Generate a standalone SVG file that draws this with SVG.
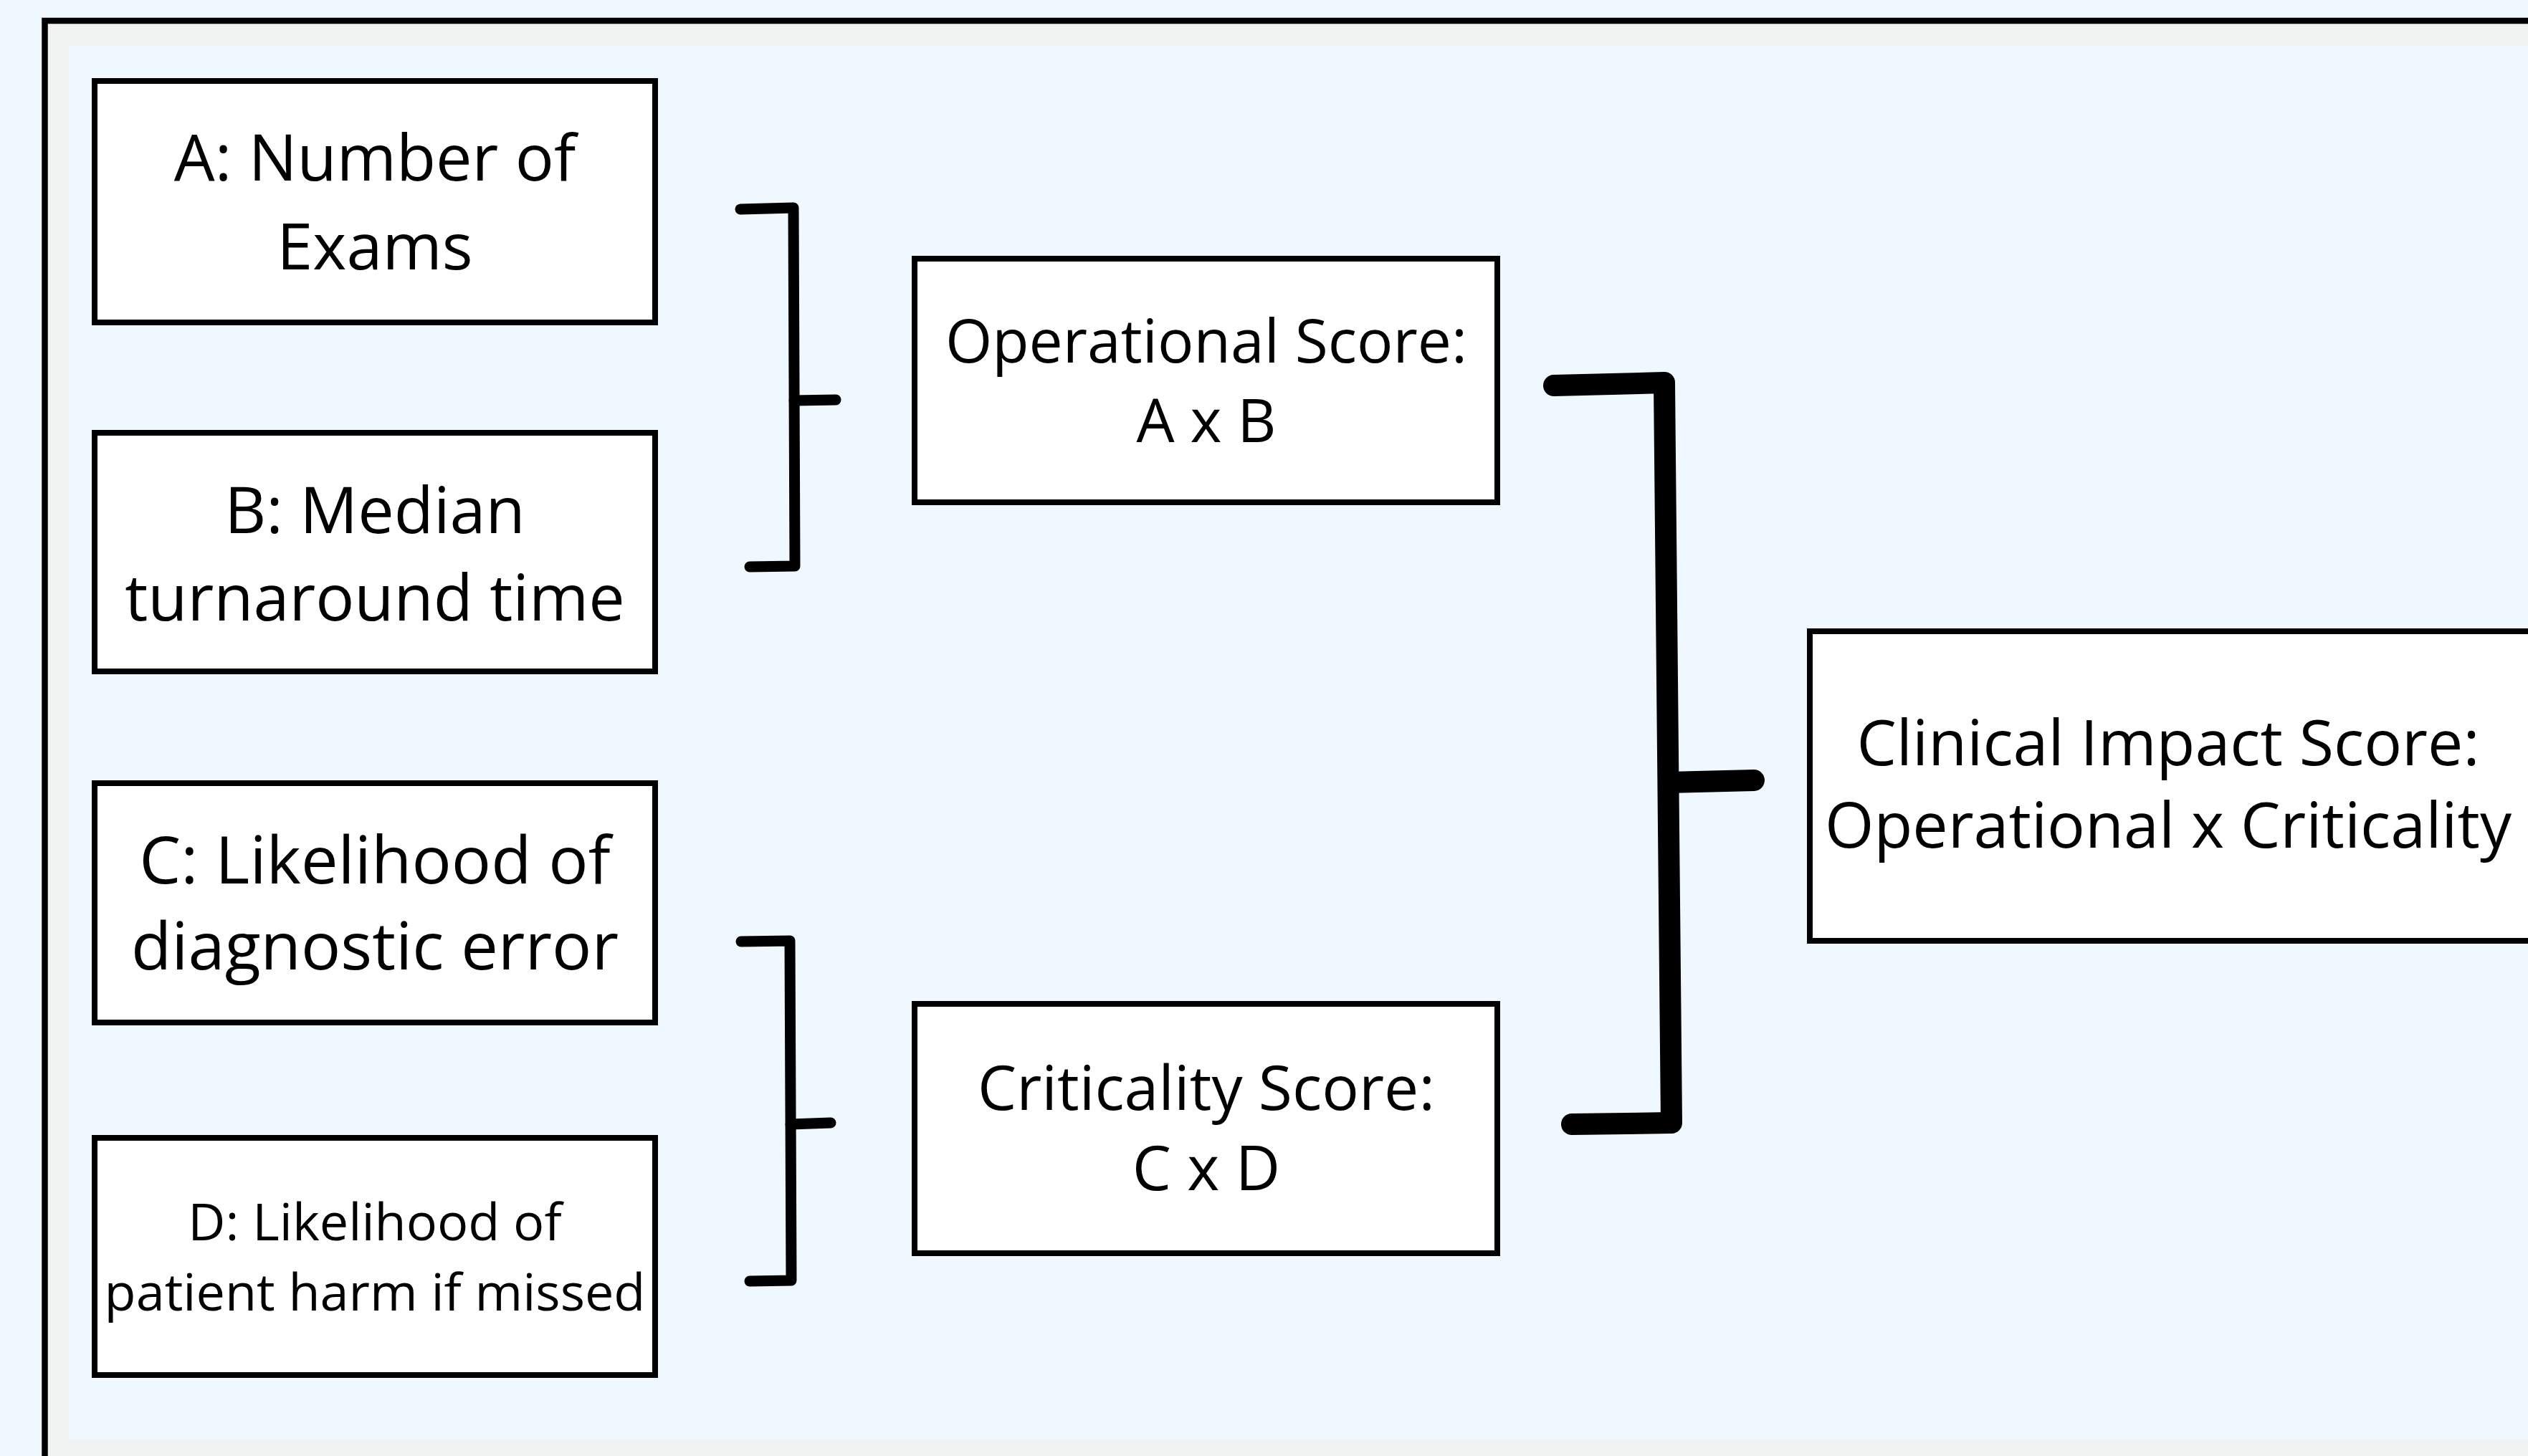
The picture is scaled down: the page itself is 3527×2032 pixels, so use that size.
<svg xmlns="http://www.w3.org/2000/svg" width="3527" height="2032" viewBox="0 0 3527 2032">
  <style>
    .box { fill: #FFFFFF; stroke: #000000; stroke-width: 8; }
    .lbl { font-family: "Open Sans", "Noto Sans", "Liberation Sans", sans-serif; fill: #000000; text-anchor: middle; }
    .br { fill: none; stroke: #000000; stroke-linecap: round; stroke-linejoin: round; }
    .thin { stroke-width: 15; }
    .thick { stroke-width: 30; }
  </style>
  <rect x="0" y="0" width="3527" height="2032" fill="#EEF8FE"/>
  <rect x="62.5" y="29" width="3600" height="2100" fill="#F1F2F2" stroke="#000000" stroke-width="8.5"/>
  <rect x="96" y="64" width="3500" height="1945" fill="#EEF8FE"/>

  <g id="connectors">
    <path class="br thin" d="M1033,292 L1107,290 L1109,790 L1046,791"/>
    <path class="br thin" d="M1108,559 L1166,558"/>
    <path class="br thin" d="M1034,1314 L1102,1313 L1104,1787 L1046,1788"/>
    <path class="br thin" d="M1103,1569 L1159,1567"/>
    <path class="br thick" d="M2168,538 L2322,534 L2332,1567 L2193,1569"/>
    <path class="br thick" d="M2328,1092 L2447,1089"/>
  </g>

  <g id="nodeA">
    <rect class="box" x="132" y="113" width="782" height="337"/>
    <text class="lbl" x="523" y="252" font-size="90">A: Number of</text>
    <text class="lbl" x="523" y="376" font-size="90">Exams</text>
  </g>
  <g id="nodeB">
    <rect class="box" x="132" y="604" width="782" height="333"/>
    <text class="lbl" x="523" y="744" font-size="90">B: Median</text>
    <text class="lbl" x="523" y="866" font-size="90">turnaround time</text>
  </g>
  <g id="nodeC">
    <rect class="box" x="132" y="1093" width="782" height="334"/>
    <text class="lbl" x="523" y="1233" font-size="92">C: Likelihood of</text>
    <text class="lbl" x="523" y="1353" font-size="92">diagnostic error</text>
  </g>
  <g id="nodeD">
    <rect class="box" x="132" y="1588" width="782" height="331"/>
    <text class="lbl" x="523" y="1731" font-size="72">D: Likelihood of</text>
    <text class="lbl" x="523" y="1829" font-size="72">patient harm if missed</text>
  </g>
  <g id="nodeOperational">
    <rect class="box" x="1276" y="361" width="813" height="340"/>
    <text class="lbl" x="1683" y="506" font-size="84">Operational Score:</text>
    <text class="lbl" x="1683" y="617" font-size="84">A x B</text>
  </g>
  <g id="nodeCriticality">
    <rect class="box" x="1276" y="1401" width="813" height="348"/>
    <text class="lbl" x="1683" y="1549" font-size="86">Criticality Score:</text>
    <text class="lbl" x="1683" y="1661" font-size="86">C x D</text>
  </g>
  <g id="nodeClinical">
    <rect class="box" x="2525" y="881" width="2998" height="432"/>
    <text class="lbl" x="3025" y="1068" font-size="88">Clinical Impact Score:</text>
    <text class="lbl" x="3025" y="1183" font-size="88">Operational x Criticality</text>
  </g>
</svg>
